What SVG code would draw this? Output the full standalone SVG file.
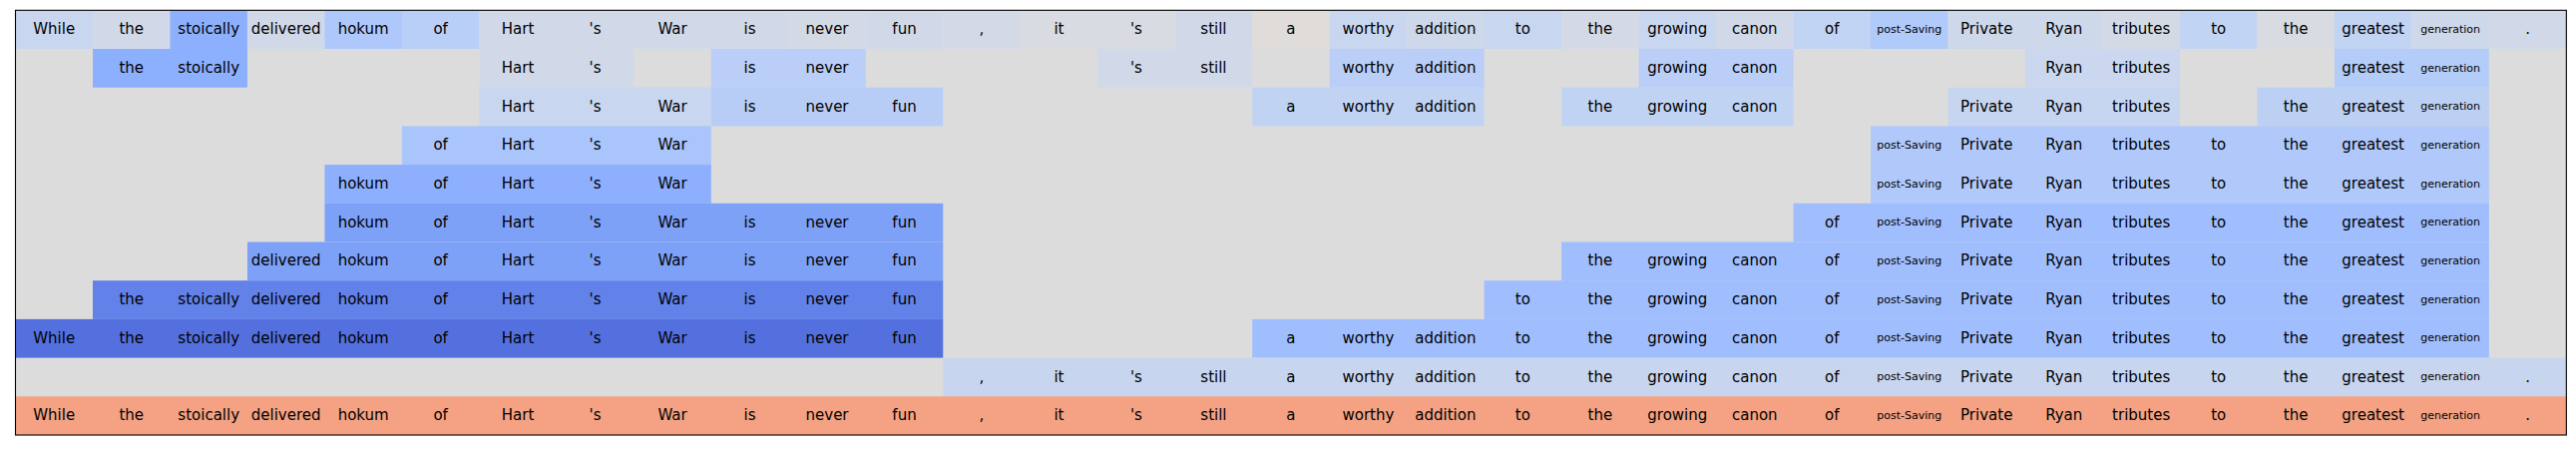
<svg xmlns="http://www.w3.org/2000/svg" width="2582" height="451" viewBox="0 0 2582 451">
<style>
text{font-family:"DejaVu Sans","Liberation Sans",sans-serif;font-size:15px;text-anchor:middle;fill:#000}
text.s{font-size:11px}
rect{stroke:none;height:38.7px}
.bg{fill:#DDDCDC}
.a1{fill:#C9D6EF}.a2{fill:#D1D9E8}.a3{fill:#8DB0FE}.a4{fill:#AEC8FB}.a5{fill:#B9CFF7}
.a6{fill:#D4DAE5}.a7{fill:#D8DBE1}.a8{fill:#DFDCDA}.a9{fill:#CDD8EB}.a10{fill:#C1D4F4}.a11{fill:#B0CAFA}
.b1{fill:#BACEF7}.b2{fill:#CAD7EE}.b3{fill:#B4CCF8}
.r2a{fill:#C8D6EF}.r2b{fill:#B8CDF6}.r2c{fill:#C0D3F3}.r2d{fill:#C6D6F0}.r2e{fill:#BCD0F4}
.r3a{fill:#A9C5FC}.r3b{fill:#B0C9FA}
.r4a{fill:#8DAFFD}
.r5a{fill:#7EA1F8}.r5b{fill:#A0BEFE}
.r7a{fill:#6282EA}
.r8a{fill:#5470DE}
.r9a{fill:#C8D5EE}
.r10a{fill:#F4A283}
.frame{fill:none;stroke:#000;stroke-width:1.1}
</style>
<rect class="bg" x="15.5" y="10.3" width="2556.84" style="height:425.7px"/>

<g id="row0" transform="translate(0,10.3)">
<rect class="a1" x="15.5" width="77.48"/><rect class="a2" x="92.98" width="77.48"/><rect class="a3" x="170.46" width="77.48"/><rect class="a2" x="247.94" width="77.48"/><rect class="a4" x="325.42" width="77.48"/><rect class="a5" x="402.9" width="77.48"/><rect class="a2" x="480.38" width="309.92"/><rect class="a6" x="790.3" width="77.48"/><rect class="a2" x="867.78" width="77.48"/><rect class="a6" x="945.26" width="77.48"/><rect class="a7" x="1022.74" width="154.96"/><rect class="a2" x="1177.7" width="77.48"/><rect class="a8" x="1255.18" width="77.48"/><rect class="a1" x="1332.66" width="77.48"/><rect class="a9" x="1410.14" width="77.48"/><rect class="a1" x="1487.62" width="77.48"/><rect class="a6" x="1565.1" width="77.48"/><rect class="a1" x="1642.58" width="77.48"/><rect class="a2" x="1720.06" width="77.48"/><rect class="a10" x="1797.54" width="77.48"/><rect class="a11" x="1875.02" width="77.48"/><rect class="a9" x="1952.5" width="154.96"/><rect class="a6" x="2107.46" width="77.48"/><rect class="a10" x="2184.94" width="77.48"/><rect class="a7" x="2262.42" width="77.48"/><rect class="a10" x="2339.9" width="77.48"/><rect class="a9" x="2417.38" width="77.48"/><rect class="a2" x="2494.86" width="77.48"/>
<text x="54.24" y="23.95">While</text><text x="131.72" y="23.95">the</text><text x="209.2" y="23.95">stoically</text><text x="286.68" y="23.95">delivered</text><text x="364.16" y="23.95">hokum</text><text x="441.64" y="23.95">of</text><text x="519.12" y="23.95">Hart</text><text x="596.6" y="23.95">'s</text><text x="674.08" y="23.95">War</text><text x="751.56" y="23.95">is</text><text x="829.04" y="23.95">never</text><text x="906.52" y="23.95">fun</text><text x="984" y="23.95">,</text><text x="1061.48" y="23.95">it</text><text x="1138.96" y="23.95">'s</text><text x="1216.44" y="23.95">still</text><text x="1293.92" y="23.95">a</text><text x="1371.4" y="23.95">worthy</text><text x="1448.88" y="23.95">addition</text><text x="1526.36" y="23.95">to</text><text x="1603.84" y="23.95">the</text><text x="1681.32" y="23.95">growing</text><text x="1758.8" y="23.95">canon</text><text x="1836.28" y="23.95">of</text><text class="s" x="1913.76" y="22.55">post-Saving</text><text x="1991.24" y="23.95">Private</text><text x="2068.72" y="23.95">Ryan</text><text x="2146.2" y="23.95">tributes</text><text x="2223.68" y="23.95">to</text><text x="2301.16" y="23.95">the</text><text x="2378.64" y="23.95">greatest</text><text class="s" x="2456.12" y="22.55">generation</text><text x="2533.6" y="23.95">.</text>
</g>

<g id="row1" transform="translate(0,49)">
<rect class="a3" x="92.98" width="154.96"/><rect class="a2" x="480.38" width="154.96"/><rect class="b1" x="712.82" width="154.96"/><rect class="a2" x="1100.22" width="154.96"/><rect class="b1" x="1332.66" width="154.96"/><rect class="b1" x="1642.58" width="154.96"/><rect class="b2" x="2029.98" width="154.96"/><rect class="b3" x="2339.9" width="154.96"/>
<text x="131.72" y="23.95">the</text><text x="209.2" y="23.95">stoically</text><text x="519.12" y="23.95">Hart</text><text x="596.6" y="23.95">'s</text><text x="751.56" y="23.95">is</text><text x="829.04" y="23.95">never</text><text x="1138.96" y="23.95">'s</text><text x="1216.44" y="23.95">still</text><text x="1371.4" y="23.95">worthy</text><text x="1448.88" y="23.95">addition</text><text x="1681.32" y="23.95">growing</text><text x="1758.8" y="23.95">canon</text><text x="2068.72" y="23.95">Ryan</text><text x="2146.2" y="23.95">tributes</text><text x="2378.64" y="23.95">greatest</text><text class="s" x="2456.12" y="22.55">generation</text>
</g>

<g id="row2" transform="translate(0,87.7)">
<rect class="r2a" x="480.38" width="232.44"/><rect class="r2b" x="712.82" width="232.44"/><rect class="r2c" x="1255.18" width="232.44"/><rect class="r2c" x="1565.1" width="232.44"/><rect class="r2d" x="1952.5" width="232.44"/><rect class="r2e" x="2262.42" width="232.44"/>
<text x="519.12" y="23.95">Hart</text><text x="596.6" y="23.95">'s</text><text x="674.08" y="23.95">War</text><text x="751.56" y="23.95">is</text><text x="829.04" y="23.95">never</text><text x="906.52" y="23.95">fun</text><text x="1293.92" y="23.95">a</text><text x="1371.4" y="23.95">worthy</text><text x="1448.88" y="23.95">addition</text><text x="1603.84" y="23.95">the</text><text x="1681.32" y="23.95">growing</text><text x="1758.8" y="23.95">canon</text><text x="1991.24" y="23.95">Private</text><text x="2068.72" y="23.95">Ryan</text><text x="2146.2" y="23.95">tributes</text><text x="2301.16" y="23.95">the</text><text x="2378.64" y="23.95">greatest</text><text class="s" x="2456.12" y="22.55">generation</text>
</g>

<g id="row3" transform="translate(0,126.4)">
<rect class="r3a" x="402.9" width="309.92"/><rect class="r3b" x="1875.02" width="619.84"/>
<text x="441.64" y="23.95">of</text><text x="519.12" y="23.95">Hart</text><text x="596.6" y="23.95">'s</text><text x="674.08" y="23.95">War</text><text class="s" x="1913.76" y="22.55">post-Saving</text><text x="1991.24" y="23.95">Private</text><text x="2068.72" y="23.95">Ryan</text><text x="2146.2" y="23.95">tributes</text><text x="2223.68" y="23.95">to</text><text x="2301.16" y="23.95">the</text><text x="2378.64" y="23.95">greatest</text><text class="s" x="2456.12" y="22.55">generation</text>
</g>

<g id="row4" transform="translate(0,165.1)">
<rect class="r4a" x="325.42" width="387.4"/><rect class="r3b" x="1875.02" width="619.84"/>
<text x="364.16" y="23.95">hokum</text><text x="441.64" y="23.95">of</text><text x="519.12" y="23.95">Hart</text><text x="596.6" y="23.95">'s</text><text x="674.08" y="23.95">War</text><text class="s" x="1913.76" y="22.55">post-Saving</text><text x="1991.24" y="23.95">Private</text><text x="2068.72" y="23.95">Ryan</text><text x="2146.2" y="23.95">tributes</text><text x="2223.68" y="23.95">to</text><text x="2301.16" y="23.95">the</text><text x="2378.64" y="23.95">greatest</text><text class="s" x="2456.12" y="22.55">generation</text>
</g>

<g id="row5" transform="translate(0,203.8)">
<rect class="r5a" x="325.42" width="619.84"/><rect class="r5b" x="1797.54" width="697.32"/>
<text x="364.16" y="23.95">hokum</text><text x="441.64" y="23.95">of</text><text x="519.12" y="23.95">Hart</text><text x="596.6" y="23.95">'s</text><text x="674.08" y="23.95">War</text><text x="751.56" y="23.95">is</text><text x="829.04" y="23.95">never</text><text x="906.52" y="23.95">fun</text><text x="1836.28" y="23.95">of</text><text class="s" x="1913.76" y="22.55">post-Saving</text><text x="1991.24" y="23.95">Private</text><text x="2068.72" y="23.95">Ryan</text><text x="2146.2" y="23.95">tributes</text><text x="2223.68" y="23.95">to</text><text x="2301.16" y="23.95">the</text><text x="2378.64" y="23.95">greatest</text><text class="s" x="2456.12" y="22.55">generation</text>
</g>

<g id="row6" transform="translate(0,242.5)">
<rect class="r5a" x="247.94" width="697.32"/><rect class="r5b" x="1565.1" width="929.76"/>
<text x="286.68" y="23.95">delivered</text><text x="364.16" y="23.95">hokum</text><text x="441.64" y="23.95">of</text><text x="519.12" y="23.95">Hart</text><text x="596.6" y="23.95">'s</text><text x="674.08" y="23.95">War</text><text x="751.56" y="23.95">is</text><text x="829.04" y="23.95">never</text><text x="906.52" y="23.95">fun</text><text x="1603.84" y="23.95">the</text><text x="1681.32" y="23.95">growing</text><text x="1758.8" y="23.95">canon</text><text x="1836.28" y="23.95">of</text><text class="s" x="1913.76" y="22.55">post-Saving</text><text x="1991.24" y="23.95">Private</text><text x="2068.72" y="23.95">Ryan</text><text x="2146.2" y="23.95">tributes</text><text x="2223.68" y="23.95">to</text><text x="2301.16" y="23.95">the</text><text x="2378.64" y="23.95">greatest</text><text class="s" x="2456.12" y="22.55">generation</text>
</g>

<g id="row7" transform="translate(0,281.2)">
<rect class="r7a" x="92.98" width="852.28"/><rect class="r5b" x="1487.62" width="1007.24"/>
<text x="131.72" y="23.95">the</text><text x="209.2" y="23.95">stoically</text><text x="286.68" y="23.95">delivered</text><text x="364.16" y="23.95">hokum</text><text x="441.64" y="23.95">of</text><text x="519.12" y="23.95">Hart</text><text x="596.6" y="23.95">'s</text><text x="674.08" y="23.95">War</text><text x="751.56" y="23.95">is</text><text x="829.04" y="23.95">never</text><text x="906.52" y="23.95">fun</text><text x="1526.36" y="23.95">to</text><text x="1603.84" y="23.95">the</text><text x="1681.32" y="23.95">growing</text><text x="1758.8" y="23.95">canon</text><text x="1836.28" y="23.95">of</text><text class="s" x="1913.76" y="22.55">post-Saving</text><text x="1991.24" y="23.95">Private</text><text x="2068.72" y="23.95">Ryan</text><text x="2146.2" y="23.95">tributes</text><text x="2223.68" y="23.95">to</text><text x="2301.16" y="23.95">the</text><text x="2378.64" y="23.95">greatest</text><text class="s" x="2456.12" y="22.55">generation</text>
</g>

<g id="row8" transform="translate(0,319.9)">
<rect class="r8a" x="15.5" width="929.76"/><rect class="r5b" x="1255.18" width="1239.68"/>
<text x="54.24" y="23.95">While</text><text x="131.72" y="23.95">the</text><text x="209.2" y="23.95">stoically</text><text x="286.68" y="23.95">delivered</text><text x="364.16" y="23.95">hokum</text><text x="441.64" y="23.95">of</text><text x="519.12" y="23.95">Hart</text><text x="596.6" y="23.95">'s</text><text x="674.08" y="23.95">War</text><text x="751.56" y="23.95">is</text><text x="829.04" y="23.95">never</text><text x="906.52" y="23.95">fun</text><text x="1293.92" y="23.95">a</text><text x="1371.4" y="23.95">worthy</text><text x="1448.88" y="23.95">addition</text><text x="1526.36" y="23.95">to</text><text x="1603.84" y="23.95">the</text><text x="1681.32" y="23.95">growing</text><text x="1758.8" y="23.95">canon</text><text x="1836.28" y="23.95">of</text><text class="s" x="1913.76" y="22.55">post-Saving</text><text x="1991.24" y="23.95">Private</text><text x="2068.72" y="23.95">Ryan</text><text x="2146.2" y="23.95">tributes</text><text x="2223.68" y="23.95">to</text><text x="2301.16" y="23.95">the</text><text x="2378.64" y="23.95">greatest</text><text class="s" x="2456.12" y="22.55">generation</text>
</g>

<g id="row9" transform="translate(0,358.6)">
<rect class="r9a" x="945.26" width="1627.08"/>
<text x="984" y="23.95">,</text><text x="1061.48" y="23.95">it</text><text x="1138.96" y="23.95">'s</text><text x="1216.44" y="23.95">still</text><text x="1293.92" y="23.95">a</text><text x="1371.4" y="23.95">worthy</text><text x="1448.88" y="23.95">addition</text><text x="1526.36" y="23.95">to</text><text x="1603.84" y="23.95">the</text><text x="1681.32" y="23.95">growing</text><text x="1758.8" y="23.95">canon</text><text x="1836.28" y="23.95">of</text><text class="s" x="1913.76" y="22.55">post-Saving</text><text x="1991.24" y="23.95">Private</text><text x="2068.72" y="23.95">Ryan</text><text x="2146.2" y="23.95">tributes</text><text x="2223.68" y="23.95">to</text><text x="2301.16" y="23.95">the</text><text x="2378.64" y="23.95">greatest</text><text class="s" x="2456.12" y="22.55">generation</text><text x="2533.6" y="23.95">.</text>
</g>

<g id="row10" transform="translate(0,397.3)">
<rect class="r10a" x="15.5" width="2556.84"/>
<text x="54.24" y="23.95">While</text><text x="131.72" y="23.95">the</text><text x="209.2" y="23.95">stoically</text><text x="286.68" y="23.95">delivered</text><text x="364.16" y="23.95">hokum</text><text x="441.64" y="23.95">of</text><text x="519.12" y="23.95">Hart</text><text x="596.6" y="23.95">'s</text><text x="674.08" y="23.95">War</text><text x="751.56" y="23.95">is</text><text x="829.04" y="23.95">never</text><text x="906.52" y="23.95">fun</text><text x="984" y="23.95">,</text><text x="1061.48" y="23.95">it</text><text x="1138.96" y="23.95">'s</text><text x="1216.44" y="23.95">still</text><text x="1293.92" y="23.95">a</text><text x="1371.4" y="23.95">worthy</text><text x="1448.88" y="23.95">addition</text><text x="1526.36" y="23.95">to</text><text x="1603.84" y="23.95">the</text><text x="1681.32" y="23.95">growing</text><text x="1758.8" y="23.95">canon</text><text x="1836.28" y="23.95">of</text><text class="s" x="1913.76" y="22.55">post-Saving</text><text x="1991.24" y="23.95">Private</text><text x="2068.72" y="23.95">Ryan</text><text x="2146.2" y="23.95">tributes</text><text x="2223.68" y="23.95">to</text><text x="2301.16" y="23.95">the</text><text x="2378.64" y="23.95">greatest</text><text class="s" x="2456.12" y="22.55">generation</text><text x="2533.6" y="23.95">.</text>
</g>

<rect class="frame" x="15.5" y="10.3" width="2556.84" style="height:425.7px"/>
</svg>
